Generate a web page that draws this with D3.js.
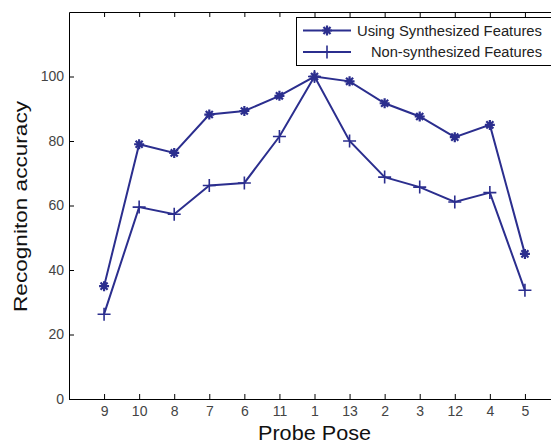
<!DOCTYPE html>
<html>
<head>
<meta charset="utf-8">
<script src="https://cdn.jsdelivr.net/npm/d3@7"></script>
<style>
  html, body { margin: 0; padding: 0; background: #fff; }
  svg { display: block; font-family: "Liberation Sans", Arial, sans-serif; }
</style>
</head>
<body>
<div id="chart"></div>
<script>
// Probe poses in plotted order
const poses = ['9', '10', '8', '7', '6', '11', '1', '13', '2', '3', '12', '4', '5'];
// Recognition accuracy (%)
const synthesized = [35, 79, 76.3, 88.2, 89.3, 94, 100, 98.5, 91.7, 87.6, 81.2, 85, 45];
const nonSynthesized = [26.3, 59.5, 57.3, 66.2, 67, 81.4, 100, 80, 68.8, 65.7, 61.1, 64, 33.7];
const yTicks = [0, 20, 40, 60, 80, 100];
const seriesNames = ['Using Synthesized Features', 'Non-synthesized Features'];

const W = 551, H = 444;
const color = '#2b2e8e';
const margin = { left: 69, top: 12, bottom: 45 };

const svg = d3.select('#chart').append('svg')
    .attr('width', W)
    .attr('height', H);

// x positions are index+1 on a 0..14 axis (right end is cut off by the frame)
const x = d3.scaleLinear().domain([0, 14]).range([margin.left, 560]);
const y = d3.scaleLinear().domain([0, 120]).range([H - margin.bottom, margin.top]);

const idx = d3.range(1, poses.length + 1);

// Bottom axis, ticks pointing inward
const xAxis = d3.axisBottom(x)
    .tickValues(idx)
    .tickFormat(d => poses[d - 1])
    .tickSizeInner(-5)
    .tickSizeOuter(0)
    .tickPadding(7);

const gx = svg.append('g')
    .attr('transform', `translate(0,${y(0)})`)
    .call(xAxis);

// Top frame line with inward ticks, no labels
const gTop = svg.append('g')
    .attr('transform', `translate(0,${y(120)})`)
    .call(d3.axisTop(x).tickValues(idx).tickFormat('').tickSizeInner(-5).tickSizeOuter(0));

// Left axis
const gy = svg.append('g')
    .attr('transform', `translate(${x(0)},0)`)
    .call(d3.axisLeft(y).tickValues(yTicks).tickSizeInner(-5).tickSizeOuter(0).tickPadding(5));

[gx, gTop, gy].forEach(g => {
    g.select('.domain').attr('stroke', '#000').attr('stroke-width', 1);
    g.selectAll('.tick line').attr('stroke', '#000');
    g.selectAll('.tick text')
        .attr('fill', '#444')
        .style('font-size', '14px');
});

// Axis labels
svg.append('text')
    .attr('x', (x(0) + 560) / 2)
    .attr('y', 440)
    .attr('text-anchor', 'middle')
    .style('font-size', '21px')
    .attr('fill', '#111')
    .attr('textLength', 113)
    .attr('lengthAdjust', 'spacingAndGlyphs')
    .text('Probe Pose');

svg.append('text')
    .attr('transform', `translate(27,${(y(0) + y(120)) / 2 + 1}) rotate(-90)`)
    .attr('text-anchor', 'middle')
    .style('font-size', '19px')
    .attr('fill', '#111')
    .attr('textLength', 211)
    .attr('lengthAdjust', 'spacingAndGlyphs')
    .text('Recogniton accuracy');

// Marker paths
function starPath(r) {
    const p = d3.path();
    for (let k = 0; k < 4; k++) {
        const a = k * Math.PI / 4;
        p.moveTo(-r * Math.cos(a), -r * Math.sin(a));
        p.lineTo(r * Math.cos(a), r * Math.sin(a));
    }
    return p.toString();
}
function plusPath(r) {
    const p = d3.path();
    p.moveTo(-r, 0); p.lineTo(r, 0);
    p.moveTo(0, -r); p.lineTo(0, r);
    return p.toString();
}

const line = d3.line()
    .x((d, i) => x(i + 1))
    .y(d => y(d));

const series = [
    { name: seriesNames[0], values: synthesized, marker: starPath(5), mw: 2.2, len: 185 },
    { name: seriesNames[1], values: nonSynthesized, marker: plusPath(6.5), mw: 1.6, len: 171 }
];

series.forEach(s => {
    svg.append('path')
        .datum(s.values)
        .attr('d', line)
        .attr('fill', 'none')
        .attr('stroke', color)
        .attr('stroke-width', 2);

    svg.append('g').selectAll('path')
        .data(s.values)
        .join('path')
        .attr('transform', (d, i) => `translate(${x(i + 1)},${y(d)})`)
        .attr('d', s.marker)
        .attr('fill', 'none')
        .attr('stroke', color)
        .attr('stroke-width', s.mw);
});

// Legend
const lg = svg.append('g');
lg.append('rect')
    .attr('x', 296.5).attr('y', 17.5)
    .attr('width', 270).attr('height', 48)
    .attr('fill', '#fff')
    .attr('stroke', '#000')
    .attr('stroke-width', 1);

series.forEach((s, i) => {
    const ly = 30.5 + i * 21.5;
    lg.append('line')
        .attr('x1', 303).attr('x2', 351)
        .attr('y1', ly).attr('y2', ly)
        .attr('stroke', color)
        .attr('stroke-width', 2);
    lg.append('path')
        .attr('transform', `translate(327,${ly})`)
        .attr('d', s.marker)
        .attr('fill', 'none')
        .attr('stroke', color)
        .attr('stroke-width', s.mw);
    lg.append('text')
        .attr('x', 542)
        .attr('y', ly + 5)
        .attr('text-anchor', 'end')
        .style('font-size', '14px')
        .attr('fill', '#222')
        .attr('textLength', s.len)
        .attr('lengthAdjust', 'spacingAndGlyphs')
        .text(s.name);
});
</script>
</body>
</html>
